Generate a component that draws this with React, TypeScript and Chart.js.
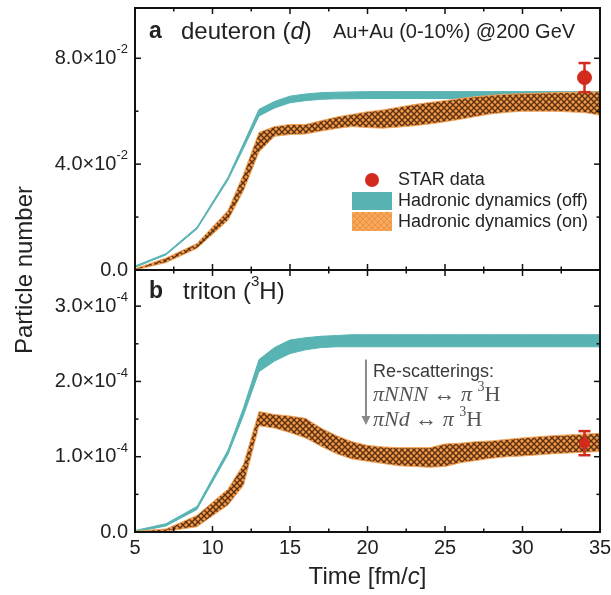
import React, { useEffect, useRef } from 'react';
import { Chart, registerables } from 'chart.js';
Chart.register(...registerables);

// ---------- data ----------
const times = [5, 7, 9, 11, 12, 13, 14, 15, 16, 17, 18, 19, 20, 21, 22, 23, 24, 25, 26, 27, 28, 29, 30, 32, 34, 35];

// deuteron, units of 1e-2
const DEUT_UNIT = 1e-2;
const deutOffLo = [0.10, 0.57, 1.55, 3.40, 4.60, 5.82, 6.12, 6.32, 6.40, 6.45, 6.47, 6.47, 6.48, 6.48, 6.48, 6.48, 6.48, 6.48, 6.48, 6.48, 6.48, 6.48, 6.48, 6.48, 6.48, 6.48];
const deutOffHi = [0.15, 0.62, 1.62, 3.50, 4.78, 6.07, 6.37, 6.57, 6.65, 6.70, 6.72, 6.73, 6.74, 6.74, 6.74, 6.74, 6.74, 6.74, 6.74, 6.74, 6.74, 6.74, 6.74, 6.74, 6.74, 6.74];
const deutOnLo = [0.00, 0.28, 0.82, 1.88, 3.00, 4.46, 5.05, 5.12, 5.14, 5.25, 5.35, 5.42, 5.38, 5.36, 5.40, 5.45, 5.52, 5.60, 5.70, 5.80, 5.90, 5.96, 6.00, 6.00, 5.95, 5.85];
const deutOnHi = [0.05, 0.45, 1.00, 2.25, 3.62, 5.20, 5.42, 5.50, 5.50, 5.64, 5.78, 5.88, 5.98, 6.05, 6.15, 6.25, 6.33, 6.40, 6.48, 6.55, 6.60, 6.64, 6.66, 6.70, 6.72, 6.73];

// triton, units of 1e-4
const TRIT_UNIT = 1e-4;
const tritOffLo = [0.00, 0.08, 0.30, 1.03, 1.55, 2.13, 2.27, 2.37, 2.42, 2.45, 2.46, 2.46, 2.46, 2.46, 2.46, 2.46, 2.46, 2.46, 2.46, 2.46, 2.46, 2.46, 2.46, 2.46, 2.46, 2.46];
const tritOffHi = [0.02, 0.11, 0.34, 1.09, 1.65, 2.29, 2.45, 2.55, 2.58, 2.60, 2.61, 2.62, 2.62, 2.62, 2.62, 2.62, 2.62, 2.62, 2.62, 2.62, 2.62, 2.62, 2.62, 2.62, 2.62, 2.62];
const tritOnLo = [0.00, 0.01, 0.07, 0.36, 0.62, 1.41, 1.38, 1.32, 1.25, 1.14, 1.04, 0.97, 0.94, 0.91, 0.88, 0.87, 0.86, 0.87, 0.92, 0.95, 0.98, 1.00, 1.01, 1.04, 1.06, 1.07];
const tritOnHi = [0.01, 0.04, 0.22, 0.57, 0.90, 1.60, 1.56, 1.54, 1.51, 1.38, 1.28, 1.20, 1.15, 1.13, 1.12, 1.12, 1.12, 1.17, 1.18, 1.20, 1.21, 1.23, 1.25, 1.28, 1.30, 1.31];

// STAR data
const starTime = [34];
const deutStar = [7.27e-2];
const deutStarErr = [0.55e-2];
const tritStar = [1.18e-4];
const tritStarErr = [0.16e-4];

// ticks
const xMajor = [5, 10, 15, 20, 25, 30, 35];
const xMinor = [7.5, 12.5, 17.5, 22.5, 27.5, 32.5];
const xLabels = ['5', '10', '15', '20', '25', '30', '35'];
const topMajor = [0, 0.04, 0.08];
const topMinor = [0.02, 0.06];
const topLabels = ['0.0', '4.0×10^-2', '8.0×10^-2'];
const botMajor = [0, 1e-4, 2e-4, 3e-4];
const botMinor = [0.5e-4, 1.5e-4, 2.5e-4];
const botLabels = ['0.0', '1.0×10^-4', '2.0×10^-4', '3.0×10^-4'];

// ---------- style ----------
const SANS = '"Liberation Sans", Arial, sans-serif';
const SERIF = '"Liberation Serif", "DejaVu Serif", serif';
const TEAL = '#58b3b3';
const ORANGE_EDGE = '#f2a458';
const RED = '#d22b1d';

function makePattern(bg: string, fg: string, size: number, lw: number) {
  const c = document.createElement('canvas');
  c.width = size; c.height = size;
  const g = c.getContext('2d')!;
  g.fillStyle = bg; g.fillRect(0, 0, size, size);
  g.strokeStyle = fg; g.lineWidth = lw;
  g.beginPath();
  g.moveTo(0, 0); g.lineTo(size, size);
  g.moveTo(size, 0); g.lineTo(0, size);
  g.stroke();
  return g.createPattern(c, 'repeat')!;
}

type Seg = { t: string; font: string; dy?: number };
function drawSeq(ctx: CanvasRenderingContext2D, segs: Seg[], x: number, y: number, align: 'left' | 'right' | 'center') {
  ctx.textAlign = 'left';
  ctx.textBaseline = 'middle';
  let total = 0;
  for (const s of segs) { ctx.font = s.font; total += ctx.measureText(s.t).width; }
  let cx = align === 'right' ? x - total : align === 'center' ? x - total / 2 : x;
  for (const s of segs) {
    ctx.font = s.font;
    ctx.fillText(s.t, cx, y + (s.dy || 0));
    cx += ctx.measureText(s.t).width;
  }
}
function tickSegs(label: string, size: number): Seg[] {
  const [base, exp] = label.split('^');
  const segs: Seg[] = [{ t: base, font: `${size}px ${SANS}` }];
  if (exp) segs.push({ t: exp, font: `${Math.round(size * 0.65)}px ${SANS}`, dy: -size * 0.42 });
  return segs;
}

const pts = (xs: number[], ys: number[], unit: number) => xs.map((x, i) => ({ x, y: ys[i] * unit }));

export default function App() {
  const ref = useRef<HTMLCanvasElement>(null);
  useEffect(() => {
    const canvas = ref.current!;
    const hatch = makePattern('#f39a45', '#5a2f14', 6, 1.4);
    const hatchLegend = makePattern('#f7a85a', '#e88b3c', 6, 0.8);

    const deco = {
      id: 'deco',
      afterDatasetsDraw(chart: any) {
        const ctx: CanvasRenderingContext2D = chart.ctx;
        const xs = chart.scales.x, yT = chart.scales.yT, yB = chart.scales.yB;
        const L = chart.chartArea.left, R = chart.chartArea.right;
        const line = (x1: number, y1: number, x2: number, y2: number) => {
          ctx.beginPath(); ctx.moveTo(x1, y1); ctx.lineTo(x2, y2); ctx.stroke();
        };
        ctx.save();

        // error bars
        ctx.strokeStyle = RED; ctx.lineWidth = 2.5;
        const errs: [any, number[], number[]][] = [[yT, deutStar, deutStarErr], [yB, tritStar, tritStarErr]];
        for (const [ys, vals, errv] of errs) {
          starTime.forEach((t, i) => {
            const px = xs.getPixelForValue(t);
            const p1 = ys.getPixelForValue(vals[i] - errv[i]);
            const p2 = ys.getPixelForValue(vals[i] + errv[i]);
            line(px, p1, px, p2);
            line(px - 6, p1, px + 6, p1);
            line(px - 6, p2, px + 6, p2);
          });
        }

        // frames
        ctx.strokeStyle = '#111'; ctx.lineWidth = 2;
        for (const ys of [yT, yB]) ctx.strokeRect(L, ys.top, R - L, ys.bottom - ys.top);
        ctx.lineWidth = 1.5;
        for (const ys of [yT, yB]) {
          for (const v of xMajor) { const p = xs.getPixelForValue(v); line(p, ys.bottom, p, ys.bottom - 6); line(p, ys.top, p, ys.top + 6); }
          for (const v of xMinor) { const p = xs.getPixelForValue(v); line(p, ys.bottom, p, ys.bottom - 3.5); line(p, ys.top, p, ys.top + 3.5); }
        }
        const yTicks: [any, number[], number[]][] = [[yT, topMajor, topMinor], [yB, botMajor, botMinor]];
        for (const [ys, maj, min] of yTicks) {
          for (const v of maj) { const p = ys.getPixelForValue(v); line(L, p, L + 6, p); line(R, p, R - 6, p); }
          for (const v of min) { const p = ys.getPixelForValue(v); line(L, p, L + 3.5, p); line(R, p, R - 3.5, p); }
        }

        // tick labels
        ctx.fillStyle = '#222';
        xMajor.forEach((v, i) => drawSeq(ctx, [{ t: xLabels[i], font: `20px ${SANS}` }], xs.getPixelForValue(v), yB.bottom + 16, 'center'));
        topMajor.forEach((v, i) => drawSeq(ctx, tickSegs(topLabels[i], 20), L - 7, yT.getPixelForValue(v), 'right'));
        botMajor.forEach((v, i) => drawSeq(ctx, tickSegs(botLabels[i], 20), L - 7, yB.getPixelForValue(v), 'right'));

        // axis titles
        drawSeq(ctx, [
          { t: 'Time [fm/', font: `24px ${SANS}` },
          { t: 'c', font: `italic 24px ${SANS}` },
          { t: ']', font: `24px ${SANS}` },
        ], (L + R) / 2, yB.bottom + 45, 'center');
        ctx.save();
        ctx.translate(25, (yT.top + yB.bottom) / 2);
        ctx.rotate(-Math.PI / 2);
        drawSeq(ctx, [{ t: 'Particle number', font: `24px ${SANS}` }], 0, 0, 'center');
        ctx.restore();

        // panel labels
        drawSeq(ctx, [{ t: 'a', font: `bold 23px ${SANS}` }], L + 14, yT.top + 24, 'left');
        drawSeq(ctx, [
          { t: 'deuteron (', font: `24px ${SANS}` },
          { t: 'd', font: `italic 24px ${SANS}` },
          { t: ')', font: `24px ${SANS}` },
        ], L + 46, yT.top + 24, 'left');
        drawSeq(ctx, [{ t: 'Au+Au (0-10%) @200 GeV', font: `20px ${SANS}` }], L + 198, yT.top + 24, 'left');
        drawSeq(ctx, [{ t: 'b', font: `bold 23px ${SANS}` }], L + 14, yB.top + 22, 'left');
        drawSeq(ctx, [
          { t: 'triton (', font: `24px ${SANS}` },
          { t: '3', font: `15px ${SANS}`, dy: -10 },
          { t: 'H)', font: `24px ${SANS}` },
        ], L + 48, yB.top + 22, 'left');

        // legend
        const lx = L + 217;
        ctx.fillStyle = RED;
        ctx.beginPath(); ctx.arc(lx + 20, yT.top + 172, 7, 0, Math.PI * 2); ctx.fill();
        ctx.fillStyle = TEAL; ctx.fillRect(lx, yT.top + 184, 40, 18);
        ctx.fillStyle = hatchLegend; ctx.fillRect(lx, yT.top + 204, 40, 19);
        ctx.fillStyle = '#222';
        drawSeq(ctx, [{ t: 'STAR data', font: `18px ${SANS}` }], lx + 46, yT.top + 172, 'left');
        drawSeq(ctx, [{ t: 'Hadronic dynamics (off)', font: `18px ${SANS}` }], lx + 46, yT.top + 193, 'left');
        drawSeq(ctx, [{ t: 'Hadronic dynamics (on)', font: `18px ${SANS}` }], lx + 46, yT.top + 214, 'left');

        // annotation arrow
        const ax = xs.getPixelForValue(19.9);
        const ay1 = yB.getPixelForValue(2.29e-4);
        const ay2 = yB.getPixelForValue(1.42e-4);
        ctx.strokeStyle = '#8a8a8a'; ctx.fillStyle = '#8a8a8a'; ctx.lineWidth = 2;
        line(ax, ay1, ax, ay2 - 8);
        ctx.beginPath(); ctx.moveTo(ax - 4.5, ay2 - 9); ctx.lineTo(ax + 4.5, ay2 - 9); ctx.lineTo(ax, ay2); ctx.closePath(); ctx.fill();
        ctx.fillStyle = '#3a3a3a';
        drawSeq(ctx, [{ t: 'Re-scatterings:', font: `18px ${SANS}` }], ax + 7, ay1 + 12, 'left');
        ctx.fillStyle = '#555';
        const it = `italic 22px ${SERIF}`, rm = `22px ${SERIF}`, sup = `14px ${SERIF}`;
        drawSeq(ctx, [
          { t: 'πNNN', font: it }, { t: ' ↔ ', font: rm }, { t: 'π ', font: it },
          { t: '3', font: sup, dy: -8 }, { t: 'H', font: rm },
        ], ax + 7, ay1 + 36, 'left');
        drawSeq(ctx, [
          { t: 'πNd', font: it }, { t: ' ↔ ', font: rm }, { t: 'π ', font: it },
          { t: '3', font: sup, dy: -8 }, { t: 'H', font: rm },
        ], ax + 7, ay1 + 61, 'left');

        ctx.restore();
      },
    };

    const band = (lo: any[], hi: any[], axis: string, fill: any, edge: string) => [
      { type: 'line', data: hi, yAxisID: axis, borderColor: edge, borderWidth: 1, pointRadius: 0, fill: false },
      { type: 'line', data: lo, yAxisID: axis, borderColor: edge, borderWidth: 1, pointRadius: 0, fill: '-1', backgroundColor: fill },
    ];

    const chart = new Chart(canvas, {
      type: 'line',
      data: {
        datasets: [
          { type: 'scatter', data: starTime.map((t, i) => ({ x: t, y: deutStar[i] })), yAxisID: 'yT', pointRadius: 7, pointBackgroundColor: RED, pointBorderColor: RED, showLine: false } as any,
          { type: 'scatter', data: starTime.map((t, i) => ({ x: t, y: tritStar[i] })), yAxisID: 'yB', pointRadius: 5, pointBackgroundColor: RED, pointBorderColor: RED, showLine: false } as any,
          ...band(pts(times, deutOnLo, DEUT_UNIT), pts(times, deutOnHi, DEUT_UNIT), 'yT', hatch, ORANGE_EDGE),
          ...band(pts(times, deutOffLo, DEUT_UNIT), pts(times, deutOffHi, DEUT_UNIT), 'yT', TEAL, TEAL),
          ...band(pts(times, tritOnLo, TRIT_UNIT), pts(times, tritOnHi, TRIT_UNIT), 'yB', hatch, ORANGE_EDGE),
          ...band(pts(times, tritOffLo, TRIT_UNIT), pts(times, tritOffHi, TRIT_UNIT), 'yB', TEAL, TEAL),
        ] as any,
      },
      options: {
        animation: false,
        responsive: true,
        maintainAspectRatio: false,
        layout: { padding: { top: 3, right: 11, left: 0, bottom: 0 } },
        plugins: { legend: { display: false }, tooltip: { enabled: false } },
        scales: {
          x: {
            type: 'linear', min: 5, max: 35, position: 'bottom',
            ticks: { display: false, stepSize: 2.5 },
            grid: { display: false }, border: { display: false },
            afterFit: (s: any) => { s.height = 63; },
          },
          yB: {
            type: 'linear', position: 'left', stack: 'panels', stackWeight: 1,
            min: 0, max: 3.48e-4,
            ticks: { display: false, stepSize: 0.5e-4 },
            grid: { display: false }, border: { display: false },
            afterFit: (s: any) => { s.width = 135; },
          },
          yT: {
            type: 'linear', position: 'left', stack: 'panels', stackWeight: 1,
            min: 0, max: 0.099,
            ticks: { display: false, stepSize: 0.02 },
            grid: { display: false }, border: { display: false },
            afterFit: (s: any) => { s.width = 135; },
          },
        } as any,
      },
      plugins: [deco],
    });
    return () => chart.destroy();
  }, []);

  return (
    <div style={{ position: 'absolute', left: 0, top: 0, width: 611, height: 595, background: '#fff' }}>
      <canvas ref={ref} />
    </div>
  );
}
